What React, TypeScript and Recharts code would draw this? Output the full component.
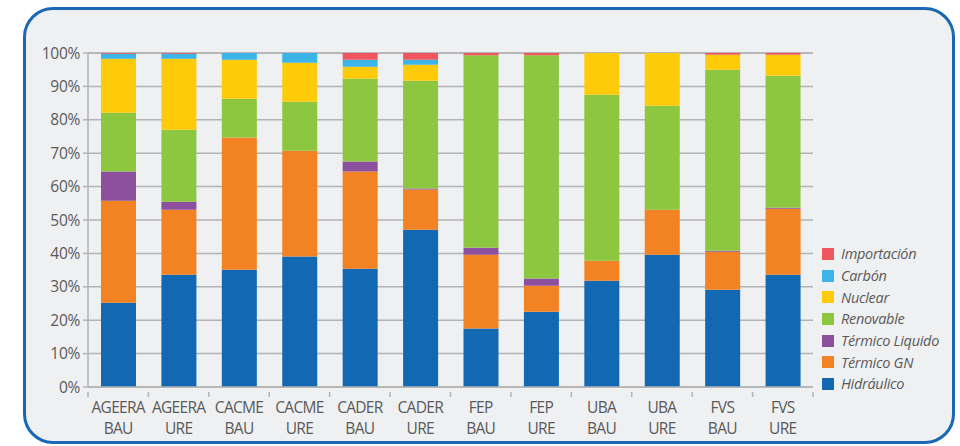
import { BarChart, Bar, XAxis, YAxis, CartesianGrid } from "recharts"

const categories = [
  "AGEERA BAU", "AGEERA URE", "CACME BAU", "CACME URE", "CADER BAU", "CADER URE",
  "FEP BAU", "FEP URE", "UBA BAU", "UBA URE", "FVS BAU", "FVS URE",
]

const hidraulico = [25.2, 33.6, 35.1, 39.1, 35.4, 47.1, 17.5, 22.5, 31.8, 39.6, 29.1, 33.6]
const termicoGN = [30.6, 19.5, 39.6, 31.6, 29.1, 12.0, 22.1, 7.8, 6.0, 13.5, 11.4, 19.8]
const termicoLiquido = [8.7, 2.4, 0, 0, 3.0, 0.3, 2.1, 2.2, 0, 0, 0.3, 0.3]
const renovable = [17.6, 21.5, 11.6, 14.7, 24.8, 32.3, 57.6, 66.8, 49.7, 31.1, 54.2, 39.5]
const nuclear = [16.2, 21.3, 11.7, 11.7, 3.6, 4.8, 0, 0, 12.5, 15.8, 4.5, 6.3]
const carbon = [1.5, 1.5, 2.0, 2.9, 2.1, 1.5, 0, 0, 0, 0, 0, 0]
const importacion = [0.2, 0.2, 0, 0, 2.0, 2.0, 0.7, 0.7, 0, 0, 0.5, 0.5]

const yTicks = [0, 10, 20, 30, 40, 50, 60, 70, 80, 90, 100]

// stacking order, bottom to top
const series = [
  { key: "hid", name: "Hidráulico", values: hidraulico, color: "#1368b3" },
  { key: "gn", name: "Térmico GN", values: termicoGN, color: "#f38222" },
  { key: "liq", name: "Térmico Liquido", values: termicoLiquido, color: "#8d509e" },
  { key: "ren", name: "Renovable", values: renovable, color: "#8dc63f" },
  { key: "nuc", name: "Nuclear", values: nuclear, color: "#fecb0a" },
  { key: "car", name: "Carbón", values: carbon, color: "#3bb4e8" },
  { key: "imp", name: "Importación", values: importacion, color: "#ef5660" },
]

const data = categories.map((c, i) => {
  const row: { [k: string]: any } = { name: c }
  series.forEach((s) => {
    row[s.key] = s.values[i]
  })
  return row
})

const GRID = "#b3b3b5"
const TEXT = "#5a5a5a"
const PLOT_LEFT = 88
const PLOT_RIGHT = 813
const BAND = (PLOT_RIGHT - PLOT_LEFT) / categories.length

const XTick = (props: any) => {
  const { x, y, payload, index } = props
  const [l1, l2] = String(payload.value).split(" ")
  return (
    <g>
      <line x1={x - BAND / 2} x2={x - BAND / 2} y1={y - 1} y2={y + 4} stroke={GRID} strokeWidth={1.5} />
      {index === categories.length - 1 && (
        <line x1={x + BAND / 2} x2={x + BAND / 2} y1={y - 1} y2={y + 4} stroke={GRID} strokeWidth={1.5} />
      )}
      <text x={x} y={y + 20} textAnchor="middle" fill={TEXT} fontSize={15.5} letterSpacing={-0.7}>
        {l1}
      </text>
      <text x={x} y={y + 41} textAnchor="middle" fill={TEXT} fontSize={15.5} letterSpacing={-0.7}>
        {l2}
      </text>
    </g>
  )
}

export default function App() {
  return (
    <div style={{ position: "absolute", left: 0, top: 0, width: 960, height: 446, overflow: "hidden", background: "#fff", fontFamily: "'Open Sans', sans-serif" }}>
      <div
        style={{
          position: "absolute", left: 23, top: 7, width: 926, height: 431,
          border: "3px solid #1a68b4", borderRadius: 30, background: "#eff0f2",
        }}
      />
      <div style={{ position: "absolute", left: 0, top: 0 }}>
        <BarChart
          width={960}
          height={446}
          data={data}
          margin={{ top: 53, right: 960 - PLOT_RIGHT, bottom: 9, left: 0 }}
          barSize={35}
        >
          <CartesianGrid vertical={false} stroke={GRID} strokeWidth={1.5} />
          <XAxis
            dataKey="name"
            interval={0}
            tickLine={false}
            axisLine={{ stroke: GRID, strokeWidth: 1.5 }}
            height={50}
            tick={<XTick />}
            tickMargin={0}
          />
          <YAxis
            width={PLOT_LEFT}
            domain={[0, 100]}
            ticks={yTicks}
            interval={0}
            tickFormatter={(v) => `${v}%`}
            tick={{ fill: TEXT, fontSize: 15.5, letterSpacing: -0.3 }}
            tickLine={{ stroke: GRID, strokeWidth: 1.5 }}
            tickSize={5}
            tickMargin={3}
            axisLine={{ stroke: GRID, strokeWidth: 1.5 }}
          />
          {series.map((s) => (
            <Bar key={s.key} dataKey={s.key} name={s.name} stackId="a" fill={s.color} isAnimationActive={false} />
          ))}
        </BarChart>
      </div>
      <div style={{ position: "absolute", left: 822, top: 243 }}>
        {[...series].reverse().map((s) => (
          <div key={s.key} style={{ display: "flex", alignItems: "center", height: 21.7 }}>
            <span style={{ width: 12, height: 12, background: s.color, display: "inline-block", marginRight: 7 }} />
            <span style={{ fontStyle: "italic", fontSize: 14.5, color: TEXT, letterSpacing: -0.3 }}>{s.name}</span>
          </div>
        ))}
      </div>
    </div>
  )
}
